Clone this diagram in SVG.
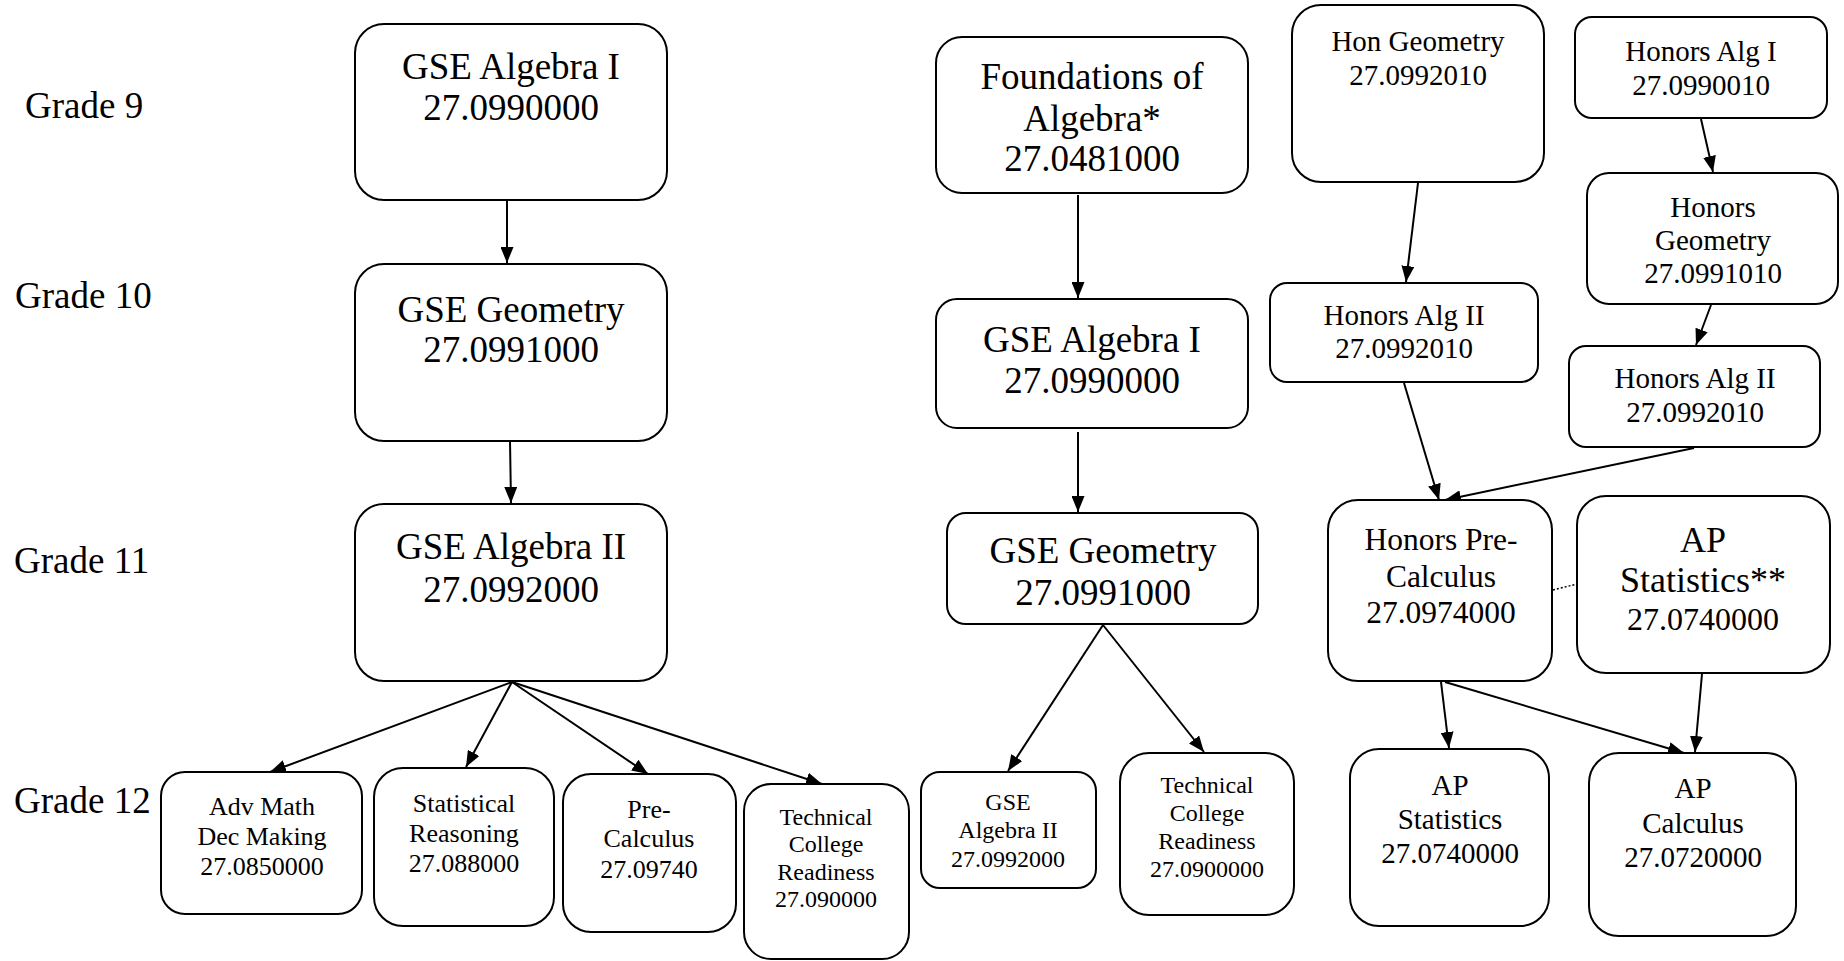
<svg xmlns="http://www.w3.org/2000/svg" width="1844" height="961" viewBox="0 0 1844 961">
<style>
text{font-family:"Liberation Serif","Times New Roman",serif;fill:#000;text-anchor:middle}
.g{text-anchor:start;font-size:37px}
.box{fill:#fff;stroke:#000;stroke-width:2}
.c{stroke:#000;stroke-width:2;fill:none;marker-end:url(#ah)}
.t37{font-size:37px}.t29{font-size:29px}.t26{font-size:26px}.t24{font-size:24px}.t31{font-size:31.5px}.t36{font-size:36px}.t32{font-size:32px}
</style>
<defs>
<marker id="ah" markerUnits="userSpaceOnUse" markerWidth="16" markerHeight="13" refX="16" refY="6.5" orient="auto">
<path d="M0,0 L16,6.5 L0,13 z" fill="#000"/>
</marker>
</defs>
<rect width="1844" height="961" fill="#fff"/>
<g id="labels">
<text class="g" x="25" y="118">Grade 9</text>
<text class="g" x="15" y="308">Grade 10</text>
<text class="g" x="14" y="573">Grade 11</text>
<text class="g" x="14" y="813">Grade 12</text>
</g>
<g id="connectors">
<line class="c" x1="507" y1="200" x2="507" y2="263"/>
<line class="c" x1="510" y1="441" x2="511" y2="503"/>
<line class="c" x1="512" y1="682" x2="270" y2="772"/>
<line class="c" x1="512" y1="682" x2="466" y2="767"/>
<line class="c" x1="512" y1="682" x2="648" y2="774"/>
<line class="c" x1="512" y1="682" x2="822" y2="784"/>
<line class="c" x1="1078" y1="195" x2="1078" y2="298"/>
<line class="c" x1="1078" y1="432" x2="1078" y2="512"/>
<line class="c" x1="1103" y1="625" x2="1008" y2="771"/>
<line class="c" x1="1103" y1="625" x2="1204" y2="752"/>
<line class="c" x1="1418" y1="183" x2="1406" y2="282"/>
<line class="c" x1="1701" y1="119" x2="1713" y2="172"/>
<line class="c" x1="1711" y1="305" x2="1696" y2="345"/>
<line class="c" x1="1404" y1="383" x2="1439" y2="500"/>
<line class="c" x1="1694" y1="448" x2="1445" y2="500"/>
<line class="c" x1="1441" y1="682" x2="1449" y2="748"/>
<line class="c" x1="1445" y1="682" x2="1684" y2="753"/>
<line class="c" x1="1702" y1="674" x2="1695" y2="752"/>
<line x1="1553" y1="590" x2="1577" y2="584" stroke="#000" stroke-width="1.5" stroke-dasharray="2,2"/>
</g>
<g id="n-alg1">
<rect class="box" x="355" y="24" width="312" height="176" rx="29"/>
<text class="t37" x="511" y="79">GSE Algebra I</text>
<text class="t37" x="511" y="120">27.0990000</text>
</g>
<g id="n-geo">
<rect class="box" x="355" y="264" width="312" height="177" rx="29"/>
<text class="t37" x="511" y="322">GSE Geometry</text>
<text class="t37" x="511" y="362">27.0991000</text>
</g>
<g id="n-alg2">
<rect class="box" x="355" y="504" width="312" height="177" rx="29"/>
<text class="t37" x="511" y="559">GSE Algebra II</text>
<text class="t37" x="511" y="602">27.0992000</text>
</g>
<g id="n-advmath">
<rect class="box" x="161" y="772" width="201" height="142" rx="24"/>
<text class="t26" x="262" y="815">Adv Math</text>
<text class="t26" x="262" y="845">Dec Making</text>
<text class="t26" x="262" y="875">27.0850000</text>
</g>
<g id="n-statreas">
<rect class="box" x="374" y="768" width="180" height="158" rx="29"/>
<text class="t26" x="464" y="812">Statistical</text>
<text class="t26" x="464" y="842">Reasoning</text>
<text class="t26" x="464" y="872">27.088000</text>
</g>
<g id="n-precalc">
<rect class="box" x="563" y="774" width="173" height="158" rx="28"/>
<text class="t26" x="649" y="818">Pre-</text>
<text class="t26" x="649" y="847">Calculus</text>
<text class="t26" x="649" y="878">27.09740</text>
</g>
<g id="n-tech1">
<rect class="box" x="744" y="784" width="165" height="175" rx="27"/>
<text class="t24" x="826" y="825">Technical</text>
<text class="t24" x="826" y="852">College</text>
<text class="t24" x="826" y="880">Readiness</text>
<text class="t24" x="826" y="907">27.090000</text>
</g>
<g id="n-found">
<rect class="box" x="936" y="37" width="312" height="156" rx="26"/>
<text class="t37" x="1092" y="89">Foundations of</text>
<text class="t37" x="1092" y="131">Algebra*</text>
<text class="t37" x="1092" y="171">27.0481000</text>
</g>
<g id="n-malg1">
<rect class="box" x="936" y="299" width="312" height="129" rx="21"/>
<text class="t37" x="1092" y="352">GSE Algebra I</text>
<text class="t37" x="1092" y="393">27.0990000</text>
</g>
<g id="n-mgeo">
<rect class="box" x="947" y="513" width="311" height="111" rx="19"/>
<text class="t37" x="1103" y="563">GSE Geometry</text>
<text class="t37" x="1103" y="605">27.0991000</text>
</g>
<g id="n-malg2">
<rect class="box" x="921" y="772" width="175" height="116" rx="19"/>
<text class="t24" x="1008" y="810">GSE</text>
<text class="t24" x="1008" y="838">Algebra II</text>
<text class="t24" x="1008" y="867">27.0992000</text>
</g>
<g id="n-mtech">
<rect class="box" x="1120" y="753" width="174" height="162" rx="29"/>
<text class="t24" x="1207" y="793">Technical</text>
<text class="t24" x="1207" y="821">College</text>
<text class="t24" x="1207" y="849">Readiness</text>
<text class="t24" x="1207" y="877">27.0900000</text>
</g>
<g id="n-hongeo">
<rect class="box" x="1292" y="5" width="252" height="177" rx="29"/>
<text class="t29" x="1418" y="51">Hon Geometry</text>
<text class="t29" x="1418" y="85">27.0992010</text>
</g>
<g id="n-honalg1">
<rect class="box" x="1575" y="17" width="252" height="101" rx="17"/>
<text class="t29" x="1701" y="61">Honors Alg I</text>
<text class="t29" x="1701" y="95">27.0990010</text>
</g>
<g id="n-honalg2a">
<rect class="box" x="1270" y="283" width="268" height="99" rx="17"/>
<text class="t29" x="1404" y="325">Honors Alg II</text>
<text class="t29" x="1404" y="358">27.0992010</text>
</g>
<g id="n-honorsgeo">
<rect class="box" x="1587" y="173" width="251" height="131" rx="22"/>
<text class="t29" x="1713" y="217">Honors</text>
<text class="t29" x="1713" y="250">Geometry</text>
<text class="t29" x="1713" y="283">27.0991010</text>
</g>
<g id="n-honalg2b">
<rect class="box" x="1569" y="346" width="251" height="101" rx="17"/>
<text class="t29" x="1695" y="388">Honors Alg II</text>
<text class="t29" x="1695" y="422">27.0992010</text>
</g>
<g id="n-honprecalc">
<rect class="box" x="1328" y="500" width="224" height="181" rx="30"/>
<text class="t31" x="1441" y="550">Honors Pre-</text>
<text class="t31" x="1441" y="587">Calculus</text>
<text class="t31" x="1441" y="623">27.0974000</text>
</g>
<g id="n-apstats2">
<rect class="box" x="1577" y="496" width="253" height="177" rx="29"/>
<text class="t36" x="1703" y="552">AP</text>
<text class="t36" x="1703" y="592">Statistics**</text>
<text class="t32" x="1703" y="630">27.0740000</text>
</g>
<g id="n-apstats">
<rect class="box" x="1350" y="749" width="199" height="177" rx="29"/>
<text class="t29" x="1450" y="795">AP</text>
<text class="t29" x="1450" y="829">Statistics</text>
<text class="t29" x="1450" y="863">27.0740000</text>
</g>
<g id="n-apcalc">
<rect class="box" x="1589" y="753" width="207" height="183" rx="30"/>
<text class="t29" x="1693" y="798">AP</text>
<text class="t29" x="1693" y="833">Calculus</text>
<text class="t29" x="1693" y="867">27.0720000</text>
</g>
</svg>
